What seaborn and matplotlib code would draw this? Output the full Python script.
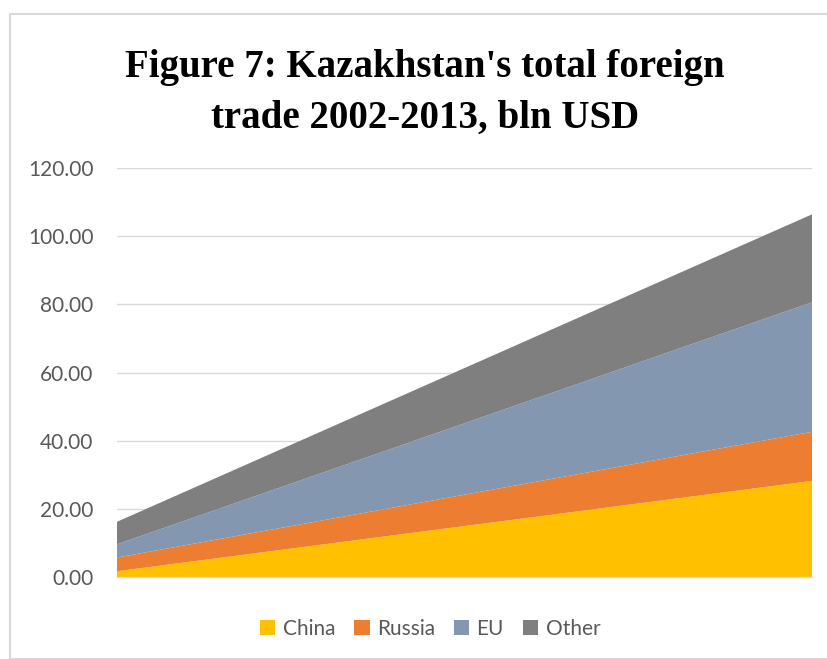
import matplotlib
matplotlib.use("Agg")
import matplotlib.pyplot as plt
import seaborn as sns
import pandas as pd
from matplotlib.patches import Rectangle

years = [2002, 2013]
china = [1.7, 28.2]
russia = [4.0, 14.4]
eu = [3.9, 38.0]
other = [6.6, 25.8]
series_names = ["China", "Russia", "EU", "Other"]
colors = ["#FFC000", "#ED7D31", "#8497B0", "#7F7F7F"]
yticks = [0, 20, 40, 60, 80, 100, 120]

sns.set_theme(style="white")
plt.rcParams['font.family'] = ['Lato', 'DejaVu Sans']

df = pd.DataFrame({"year": years, "China": china, "Russia": russia, "EU": eu, "Other": other})

fig = plt.figure(figsize=(8.27, 6.59), dpi=100)
ax = fig.add_axes([117/827, 1-577/659, (812-117)/827, (577-168)/659])

ax.stackplot(df["year"], [df[n] for n in series_names], colors=colors, labels=series_names,
             linewidth=0, edgecolor="none", zorder=2)

ax.set_xlim(years[0], years[-1])
ax.set_ylim(0, 120)
ax.set_yticks(yticks)
ax.set_yticklabels([f"{v:.2f}" for v in yticks], color="#595959", fontsize=15)
ax.set_xticks([])
ax.tick_params(axis="y", length=0, pad=17)
ax.grid(axis="y", color="#D9D9D9", linewidth=1, zorder=0)
for s in ["top", "right", "left"]:
    ax.spines[s].set_visible(False)
ax.spines["bottom"].set_color("#D9D9D9")
ax.spines["bottom"].set_linewidth(1)
ax.set_axisbelow(True)

fig.text(425/827, 1-93/659, "Figure 7: Kazakhstan's total foreign\ntrade 2002-2013, bln USD",
         ha="center", va="center", fontsize=28, fontweight="bold",
         family=["Liberation Serif"], linespacing=1.5, color="#000000")

leg = fig.legend(*ax.get_legend_handles_labels(), loc="center", bbox_to_anchor=(430/827, 1-629/659),
                 ncol=4, frameon=False, fontsize=15, handlelength=0.75, handleheight=0.75,
                 columnspacing=0.9, handletextpad=0.35)
for t in leg.get_texts():
    t.set_color("#595959")

fig.patches.append(Rectangle((10/827, 0), 1, 1-14/659, transform=fig.transFigure,
                             fill=False, edgecolor="#D9D9D9", linewidth=1.5))

fig.savefig("out.png", dpi=100)
